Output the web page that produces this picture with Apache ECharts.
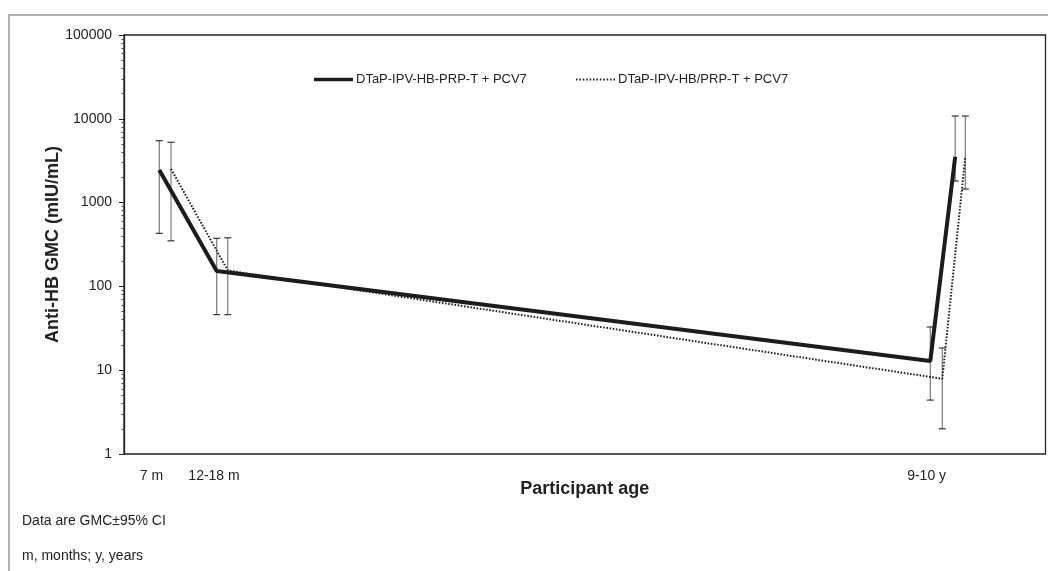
<!DOCTYPE html>
<html>
<head>
<meta charset="utf-8">
<script src="https://cdn.jsdelivr.net/npm/echarts@6/dist/echarts.min.js"></script>
<style>
html,body{margin:0;padding:0;background:#fff;}
#chart{width:1048px;height:571px;}
</style>
</head>
<body>
<div id="chart"></div>
<script>
// ---- data ----
var seriesNames = ['DTaP-IPV-HB-PRP-T + PCV7', 'DTaP-IPV-HB/PRP-T + PCV7'];
var xTickValues = [2.98, 9.77, 87.1];
var xTickLabels = ['7 m', '12-18 m', '9-10 y'];
var yMajorTicks = [1, 10, 100, 1000, 10000, 100000];

var solidX    = [3.83, 10.06, 87.5, 90.2];
var solidGMC  = [2450, 153, 12.9, 3530];
var solidLow  = [430, 46, 4.4, 1810];
var solidHigh = [5480, 375, 32.8, 10800];

var dottedX    = [5.10, 11.26, 88.8, 91.3];
var dottedGMC  = [2520, 155, 7.9, 3550];
var dottedLow  = [350, 46, 2.0, 1450];
var dottedHigh = [5250, 380, 18.4, 10800];

// ---- helpers ----
function zip2(a, b) { return a.map(function (v, i) { return [v, b[i]]; }); }
function zip3(a, b, c) { return a.map(function (v, i) { return [v, b[i], c[i]]; }); }
var minorTicks = [];
for (var d = 1; d < 100000; d *= 10) {
  for (var k = 2; k <= 9; k++) minorTicks.push(d * k);
}
var dotPath = 'path://';
for (var p = 0; p < 39; p += 3.5) dotPath += 'M' + p + ',0h1.6v2h-1.6z';

var FONT = '"Liberation Sans", Arial, sans-serif';

function errorBarRender(params, api) {
  var x = api.value(0);
  var lo = api.coord([x, api.value(1)]);
  var hi = api.coord([x, api.value(2)]);
  var cap = 3.5;
  var st = { stroke: '#7a7a7a', lineWidth: 1.2 };
  return {
    type: 'group',
    children: [
      { type: 'line', shape: { x1: lo[0], y1: lo[1], x2: hi[0], y2: hi[1] }, style: st },
      { type: 'line', shape: { x1: lo[0] - cap, y1: lo[1], x2: lo[0] + cap, y2: lo[1] }, style: { stroke: '#333', lineWidth: 1.2 } },
      { type: 'line', shape: { x1: hi[0] - cap, y1: hi[1], x2: hi[0] + cap, y2: hi[1] }, style: { stroke: '#333', lineWidth: 1.2 } }
    ]
  };
}

var chart = echarts.init(document.getElementById('chart'), null, { renderer: 'canvas' });
var option = {
  animation: false,
  backgroundColor: '#fff',
  textStyle: { fontFamily: FONT },
  grid: {
    left: 124, right: 2.5, top: 35, bottom: 117,
    show: true, borderColor: '#222', borderWidth: 1.3, backgroundColor: 'transparent'
  },
  legend: [{
    left: 309, top: 68, itemWidth: 39, itemHeight: 3.5, itemGap: 8,
    textStyle: { fontFamily: FONT, fontSize: 13, color: '#222', padding: [0, 0, 0, -2] },
    data: [{ name: seriesNames[0], icon: 'rect', itemStyle: { color: '#1c1c1c' } }]
  }, {
    left: 571, top: 68, itemWidth: 39, itemHeight: 2, itemGap: 8,
    textStyle: { fontFamily: FONT, fontSize: 13, color: '#222', padding: [0, 0, 0, -2] },
    data: [{ name: seriesNames[1], icon: dotPath, itemStyle: { color: '#222' } }]
  }],
  xAxis: {
    type: 'value', min: 0, max: 100,
    name: 'Participant age',
    nameLocation: 'middle', nameGap: 26, nameMoveOverlap: false,
    nameTextStyle: { fontFamily: FONT, fontSize: 18, fontWeight: 'bold', color: '#222' },
    axisLine: { show: false },
    axisTick: { show: false },
    splitLine: { show: false },
    axisLabel: {
      customValues: xTickValues,
      margin: 15,
      fontFamily: FONT, fontSize: 14, color: '#222',
      formatter: function (v) {
        var best = 0, bd = Infinity;
        for (var i = 0; i < xTickValues.length; i++) {
          var dd = Math.abs(xTickValues[i] - v);
          if (dd < bd) { bd = dd; best = i; }
        }
        return xTickLabels[best];
      }
    }
  },
  yAxis: [{
    type: 'log', logBase: 10, min: 1, max: 100000,
    name: 'Anti-HB GMC (mIU/mL)',
    nameLocation: 'middle', nameRotate: 90, nameGap: 62, nameMoveOverlap: false,
    nameTextStyle: { fontFamily: FONT, fontSize: 18, fontWeight: 'bold', color: '#222' },
    axisLine: { show: true, lineStyle: { color: '#222', width: 1.3 } },
    axisTick: { show: true, customValues: yMajorTicks, length: 5, lineStyle: { color: '#222', width: 1 } },
    axisLabel: {
      customValues: yMajorTicks, margin: 12, fontFamily: FONT, fontSize: 14, color: '#222',
      formatter: function (v) { return String(Math.round(v)); }
    },
    splitLine: { show: false }
  }, {
    type: 'log', logBase: 10, min: 1, max: 100000,
    position: 'left',
    axisLine: { show: false },
    axisTick: { show: true, customValues: minorTicks, length: 2.5, lineStyle: { color: '#444', width: 1 } },
    axisLabel: { show: false },
    splitLine: { show: false }
  }],
  series: [
    {
      type: 'custom', name: 'err1', renderItem: errorBarRender,
      encode: { x: 0, y: [1, 2] }, data: zip3(solidX, solidLow, solidHigh), z: 1, silent: true
    },
    {
      type: 'custom', name: 'err2', renderItem: errorBarRender,
      encode: { x: 0, y: [1, 2] }, data: zip3(dottedX, dottedLow, dottedHigh), z: 1, silent: true
    },
    {
      type: 'line', name: seriesNames[0], data: zip2(solidX, solidGMC),
      symbol: 'none', z: 3,
      lineStyle: { color: '#1c1c1c', width: 4 },
      itemStyle: { color: '#1c1c1c' }
    },
    {
      type: 'line', name: seriesNames[1], data: zip2(dottedX, dottedGMC),
      symbol: 'none', z: 2,
      lineStyle: { color: '#222', width: 2, type: [1.6, 1.6] },
      itemStyle: { color: '#222' }
    }
  ],
  graphic: [
    { type: 'polyline', shape: { points: [[9, 571], [9, 15], [1048, 15]] }, style: { stroke: '#b3b3b3', lineWidth: 2, fill: null }, silent: true },
    { type: 'text', left: 22, top: 514, style: { text: 'Data are GMC±95% CI', fontFamily: FONT, fontSize: 14, fill: '#222' } },
    { type: 'text', left: 22, top: 549, style: { text: 'm, months; y, years', fontFamily: FONT, fontSize: 14, fill: '#222' } }
  ]
};
chart.setOption(option);
</script>
</body>
</html>
